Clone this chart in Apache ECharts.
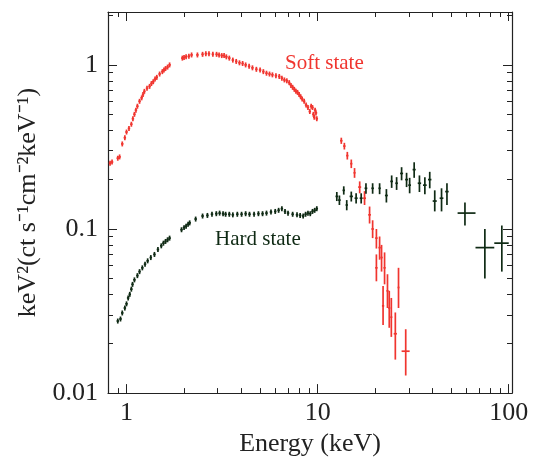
<!DOCTYPE html>
<html><head><meta charset="utf-8">
<script src="https://cdn.jsdelivr.net/npm/echarts@6/dist/echarts.min.js"></script>
<style>html,body{margin:0;background:#fff}#main{width:545px;height:462px}</style>
</head><body><div id="main"></div>
<script>
// dense points: [energy, value]
var softLow = [[0.82,0.252],[0.84,0.256],[0.9,0.27],[0.92,0.275],[0.95,0.33],[0.98,0.36],[1.0,0.39],[1.03,0.41],[1.06,0.435],[1.08,0.47],[1.1,0.50],[1.12,0.53],[1.14,0.56],[1.17,0.60],[1.2,0.63],[1.22,0.66],[1.24,0.69],[1.28,0.72],[1.32,0.74],[1.35,0.77],[1.38,0.79],[1.41,0.82],[1.44,0.84],[1.49,0.88],[1.54,0.91],[1.57,0.93],[1.6,0.95],[1.64,0.97],[1.68,1.0],
  [1.96,1.10],[2.0,1.11],[2.05,1.12],[2.12,1.13],[2.19,1.15],[2.35,1.15],[2.5,1.16],[2.6,1.17],[2.7,1.17],[2.83,1.16],[2.96,1.16],[3.05,1.15],[3.15,1.14],[3.24,1.14],[3.33,1.12],[3.45,1.10],[3.6,1.07],[3.75,1.05],[3.9,1.03],[4.05,1.02],[4.2,1.0],[4.38,0.98],[4.56,0.96],[4.78,0.94],[5.0,0.93],[5.2,0.91],[5.4,0.89],[5.6,0.88],[5.8,0.87],[6.05,0.86],[6.3,0.85],[6.5,0.83],[6.7,0.81],[6.9,0.80],[7.1,0.78],[7.25,0.75],[7.4,0.73],[7.55,0.71],[7.7,0.69],[7.85,0.68],[8.0,0.66],[8.15,0.64],[8.3,0.62],[8.5,0.60],[8.7,0.57],[8.9,0.55],[9.1,0.52],[9.25,0.56],[9.4,0.55],[9.5,0.50],[9.6,0.48],[9.7,0.53],[9.8,0.51],[9.9,0.47]];
var hardLow = [[0.9,0.0275],[0.93,0.0283],[0.95,0.0308],[0.98,0.033],[1.0,0.035],[1.02,0.038],[1.04,0.040],[1.06,0.043],[1.075,0.046],[1.1,0.049],[1.14,0.052],[1.17,0.055],[1.21,0.058],[1.25,0.061],[1.29,0.064],[1.34,0.067],[1.4,0.070],[1.46,0.075],[1.52,0.079],[1.56,0.082],[1.6,0.084],[1.64,0.086],[1.68,0.088],
  [1.94,0.099],[2.0,0.102],[2.05,0.104],[2.1,0.107],[2.14,0.109],[2.3,0.115],[2.5,0.12],[2.65,0.121],[2.8,0.123],[2.95,0.124],[3.07,0.125],[3.2,0.124],[3.3,0.123],[3.45,0.123],[3.6,0.122],[3.8,0.123],[4.0,0.123],[4.2,0.124],[4.4,0.123],[4.65,0.123],[4.9,0.124],[5.15,0.124],[5.4,0.125],[5.7,0.127],[6.0,0.128],[6.25,0.13],[6.5,0.133],[6.75,0.128],[7.0,0.125],[7.4,0.123],[7.8,0.122],[8.1,0.121],[8.4,0.12],[8.65,0.123],[8.9,0.125],[9.15,0.124],[9.4,0.128],[9.65,0.13],[9.9,0.133]];
// binned points with errors: [energy, eLow, eHigh, value, vLow, vHigh]
var softHigh = [[13.3,13.1,13.5,0.345,0.33,0.36],[13.8,13.6,14.0,0.32,0.305,0.335],[14.3,14.1,14.5,0.28,0.265,0.295],[15.0,14.8,15.2,0.25,0.235,0.265],[15.6,15.4,15.8,0.22,0.205,0.235],
  [16.6,16.3,16.9,0.18,0.165,0.195],[17.6,17.3,17.9,0.154,0.14,0.17],[18.7,18.4,19.0,0.122,0.108,0.137],[19.4,19.1,19.7,0.10,0.088,0.113],[20.3,20.0,20.6,0.088,0.076,0.10],
  [21.1,20.8,21.4,0.077,0.065,0.09],[21.6,21.3,21.9,0.067,0.055,0.08],[20.3,20.0,20.6,0.058,0.048,0.07],[22.4,22.1,22.7,0.058,0.046,0.072],[22.0,21.7,22.3,0.034,0.026,0.045],
  [23.2,22.9,23.5,0.042,0.033,0.053],[23.7,23.4,24.0,0.033,0.025,0.042],[24.3,24.0,24.6,0.029,0.022,0.038],[26.5,26.2,26.8,0.044,0.033,0.058],[25.5,25.0,26.0,0.023,0.016,0.031],[28.9,27.5,30.3,0.018,0.0128,0.0245]];
var hardHigh = [[12.6,12.4,12.8,0.158,0.148,0.168],[13.0,12.8,13.2,0.15,0.14,0.16],[13.7,13.5,13.9,0.172,0.162,0.182],[14.2,14.0,14.4,0.14,0.13,0.15],[15.0,14.7,15.3,0.158,0.147,0.169],
  [15.9,15.6,16.2,0.154,0.143,0.165],[16.9,16.6,17.2,0.154,0.143,0.165],[17.9,17.6,18.2,0.177,0.164,0.19],[19.4,19.1,19.7,0.177,0.164,0.19],[21.1,20.8,21.4,0.177,0.163,0.19],
  [22.9,22.5,23.3,0.16,0.145,0.175],[24.4,24.0,24.8,0.195,0.178,0.212],[25.9,25.5,26.3,0.19,0.173,0.207],[27.5,27.0,28.0,0.218,0.198,0.238],[29.2,28.7,29.7,0.20,0.18,0.22],
  [30.3,29.8,30.8,0.185,0.165,0.205],[32.0,31.4,32.6,0.23,0.205,0.255],[34.1,33.4,34.8,0.19,0.168,0.212],[36.4,35.6,37.2,0.185,0.163,0.207],[38.6,37.8,39.4,0.20,0.177,0.223],
  [41,40.0,42.0,0.148,0.128,0.172],[44.5,43.5,45.5,0.154,0.128,0.177],[47.5,46.5,48.5,0.169,0.14,0.19],[59,54,67,0.125,0.105,0.145],[75,67,84,0.077,0.05,0.1],[92,84,100,0.082,0.055,0.105]];

var RED = '#f0352f', DARK = '#0f2a14';

// dense points get a small fixed bin width and error
function withErr(arr) {
  return arr.map(function (p) { return [p[0], p[0] * 0.985, p[0] * 1.015, p[1], p[1] * 0.965, p[1] * 1.035]; });
}

function cross(color) {
  return function (params, api) {
    var c = api.coord([api.value(0), api.value(3)]);
    var l = api.coord([api.value(1), api.value(3)]);
    var r = api.coord([api.value(2), api.value(3)]);
    var lo = api.coord([api.value(0), api.value(4)]);
    var hi = api.coord([api.value(0), api.value(5)]);
    var st = { stroke: color, lineWidth: 1.7 };
    return { type: 'group', children: [
      { type: 'line', shape: { x1: l[0], y1: c[1], x2: r[0], y2: c[1] }, style: st },
      { type: 'line', shape: { x1: c[0], y1: lo[1], x2: c[0], y2: hi[1] }, style: st }
    ] };
  };
}

var font = 'Liberation Serif';
var myChart = echarts.init(document.getElementById('main'));
var axisLine = { lineStyle: { color: '#222', width: 1.2 } };
option = {
  animation: false,
  textStyle: { fontFamily: font },
  grid: { left: 108, right: 33, top: 12, bottom: 64 },
  xAxis: [{
    type: 'log', min: 0.8, max: 104, logBase: 10,
    name: 'Energy (keV)', nameLocation: 'middle', nameGap: 32,
    nameTextStyle: { fontFamily: font, fontSize: 26, color: '#222' },
    axisLine: axisLine, axisTick: { inside: true, length: 9, lineStyle: { color: '#222' } },
    minorTick: { show: true, splitNumber: 9, length: 5, lineStyle: { color: '#222' } },
    axisLabel: { fontFamily: font, fontSize: 26, color: '#222', margin: 7, showMinLabel: false },
    splitLine: { show: false }
  }, {
    type: 'log', min: 0.8, max: 104, position: 'top',
    axisLine: axisLine, axisTick: { inside: true, length: 9, lineStyle: { color: '#222' } },
    minorTick: { show: true, splitNumber: 9, length: 5, lineStyle: { color: '#222' } },
    axisLabel: { show: false }, splitLine: { show: false }
  }],
  yAxis: [{
    type: 'log', min: 0.01, max: 2.1,
    name: 'keV\u00b2(ct s\u207b\u00b9cm\u207b\u00b2keV\u207b\u00b9)', nameLocation: 'middle', nameGap: 64, nameRotate: 90,
    nameTextStyle: { fontFamily: font, fontSize: 26, color: '#222' },
    axisLine: axisLine, axisTick: { inside: true, length: 9, lineStyle: { color: '#222' } },
    minorTick: { show: true, splitNumber: 9, length: 5, lineStyle: { color: '#222' } },
    axisLabel: { fontFamily: font, fontSize: 26, color: '#222', margin: 10, showMaxLabel: false },
    splitLine: { show: false }
  }, {
    type: 'log', min: 0.01, max: 2.1, position: 'right',
    axisLine: axisLine, axisTick: { inside: true, length: 9, lineStyle: { color: '#222' } },
    minorTick: { show: true, splitNumber: 9, length: 5, lineStyle: { color: '#222' } },
    axisLabel: { show: false }, splitLine: { show: false }
  }],
  graphic: [
    { type: 'text', left: 285, top: 53, style: { text: 'Soft state', fill: RED, font: '21px "Liberation Serif"' } },
    { type: 'text', left: 215, top: 229, style: { text: 'Hard state', fill: DARK, font: '21px "Liberation Serif"' } }
  ],
  series: [
    { name: 'soft', type: 'custom', renderItem: cross(RED), data: withErr(softLow).concat(softHigh) },
    { name: 'hard', type: 'custom', renderItem: cross(DARK), data: withErr(hardLow).concat(hardHigh) }
  ]
};
myChart.setOption(option);
</script></body></html>
